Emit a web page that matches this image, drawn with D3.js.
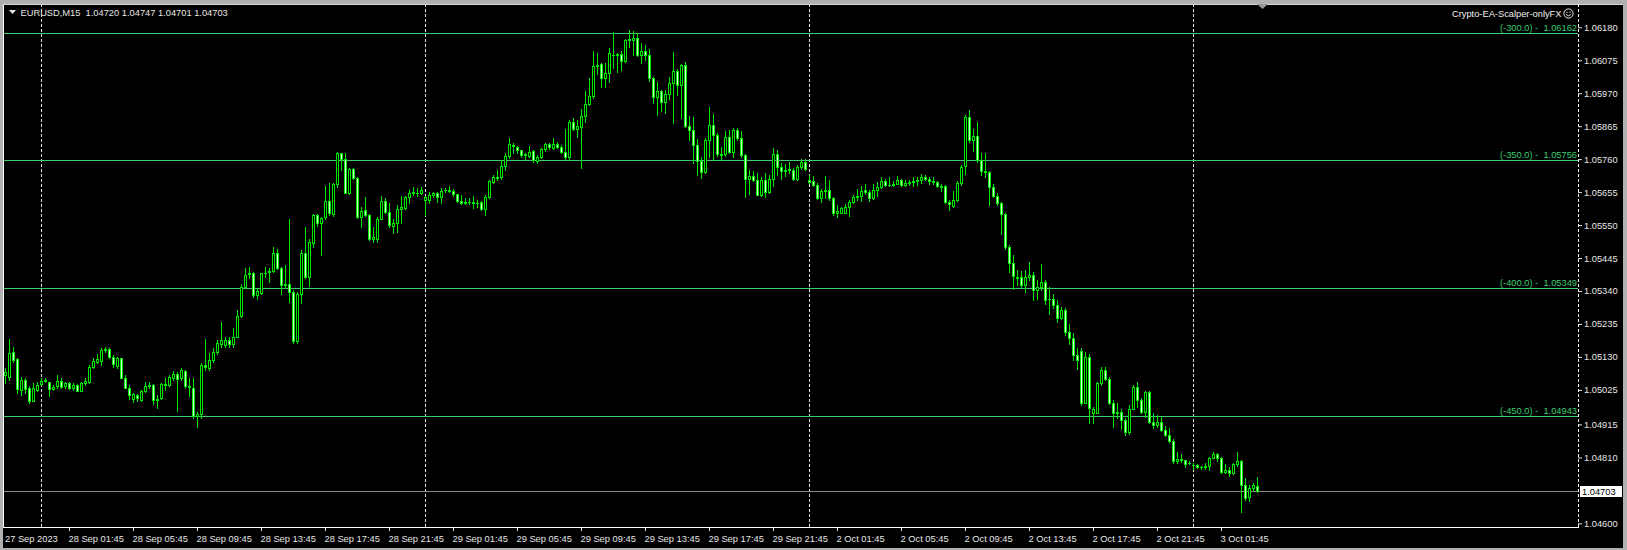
<!DOCTYPE html>
<html><head><meta charset="utf-8">
<script src="https://cdn.jsdelivr.net/npm/d3@7"></script>
<style>html,body{margin:0;padding:0;background:#b0b0b0;overflow:hidden}svg{display:block}</style>
</head><body><svg id="c" width="1627" height="550"></svg>
<script>
// EURUSD M15 candles, bar 0 = 27 Sep 2023 21:45
const opens=[1.05071,1.05067,1.05145,1.05123,1.05025,1.05057,1.05032,1.04990,1.05025,1.05043,
1.05054,1.05049,1.05028,1.05036,1.05054,1.05036,1.05048,1.05032,1.05041,1.05023,
1.05046,1.05051,1.05099,1.05113,1.05117,1.05151,1.05154,1.05131,1.05102,1.05126,
1.05064,1.05032,1.04996,1.05009,1.04993,1.05020,1.05036,1.05041,1.04996,1.04998,
1.05041,1.05041,1.05064,1.05075,1.05062,1.05085,1.05037,1.05032,1.04943,1.04947,
1.05105,1.05096,1.05119,1.05147,1.05171,1.05168,1.05184,1.05171,1.05194,1.05260,
1.05354,1.05394,1.05396,1.05326,1.05335,1.05396,1.05400,1.05405,1.05462,1.05412,
1.05358,1.05362,1.05337,1.05182,1.05330,1.05460,1.05383,1.05494,1.05581,1.05556,
1.05575,1.05628,1.05585,1.05681,1.05779,1.05759,1.05653,1.05728,1.05699,1.05577,
1.05598,1.05582,1.05507,1.05507,1.05570,1.05628,1.05591,1.05547,1.05558,1.05602,
1.05604,1.05638,1.05653,1.05653,1.05651,1.05629,1.05630,1.05645,1.05651,1.05639,
1.05662,1.05662,1.05658,1.05648,1.05627,1.05620,1.05625,1.05623,1.05620,1.05622,
1.05600,1.05639,1.05688,1.05701,1.05703,1.05737,1.05769,1.05805,1.05798,1.05788,
1.05773,1.05769,1.05786,1.05754,1.05768,1.05792,1.05807,1.05796,1.05809,1.05800,
1.05782,1.05766,1.05877,1.05856,1.05864,1.05898,1.05936,1.05960,1.06058,1.06062,
1.06020,1.06036,1.06092,1.06092,1.06096,1.06073,1.06140,1.06140,1.06145,1.06092,
1.06106,1.06092,1.06017,1.05959,1.05976,1.05942,1.05966,1.06004,1.06042,1.05996,
1.06059,1.05866,1.05853,1.05804,1.05753,1.05719,1.05821,1.05868,1.05838,1.05775,
1.05775,1.05832,1.05783,1.05853,1.05826,1.05773,1.05696,1.05705,1.05694,1.05647,
1.05692,1.05654,1.05698,1.05775,1.05736,1.05722,1.05726,1.05727,1.05698,1.05736,
1.05751,1.05694,1.05689,1.05679,1.05637,1.05660,1.05662,1.05635,1.05590,1.05590,
1.05589,1.05608,1.05625,1.05640,1.05642,1.05661,1.05655,1.05637,1.05661,1.05672,
1.05691,1.05678,1.05678,1.05682,1.05693,1.05678,1.05685,1.05687,1.05689,1.05693,
1.05704,1.05697,1.05689,1.05687,1.05676,1.05674,1.05623,1.05612,1.05629,1.05685,
1.05738,1.05895,1.05821,1.05835,1.05757,1.05721,1.05719,1.05670,1.05643,1.05619,
1.05585,1.05481,1.05430,1.05380,1.05385,1.05358,1.05383,1.05392,1.05343,1.05353,
1.05369,1.05313,1.05314,1.05295,1.05255,1.05280,1.05210,1.05190,1.05135,1.05150,
1.04984,1.05130,1.04952,1.04952,1.05046,1.05088,1.05061,1.04984,1.04952,1.04954,
1.04929,1.04890,1.04965,1.05033,1.04992,1.04955,1.05018,1.04923,1.04913,1.04924,
1.04897,1.04882,1.04863,1.04797,1.04806,1.04801,1.04791,1.04787,1.04785,1.04778,
1.04778,1.04784,1.04808,1.04822,1.04808,1.04765,1.04771,1.04759,1.04789,1.04797,
1.04723,1.04684,1.04712,1.04720];
const highs=[1.05094,1.05187,1.05163,1.05126,1.05067,1.05062,1.05036,1.05046,1.05051,1.05062,
1.05062,1.05051,1.05041,1.05073,1.05064,1.05051,1.05051,1.05046,1.05043,1.05049,
1.05062,1.05105,1.05126,1.05139,1.05158,1.05162,1.05158,1.05136,1.05131,1.05128,
1.05071,1.05039,1.05016,1.05011,1.05025,1.05049,1.05051,1.05043,1.05009,1.05046,
1.05062,1.05073,1.05085,1.05083,1.05094,1.05089,1.05062,1.05062,1.04956,1.05110,
1.05187,1.05142,1.05158,1.05184,1.05242,1.05194,1.05194,1.05221,1.05279,1.05362,
1.05412,1.05415,1.05402,1.05348,1.05398,1.05417,1.05412,1.05479,1.05473,1.05417,
1.05423,1.05568,1.05343,1.05338,1.05471,1.05545,1.05505,1.05585,1.05585,1.05577,
1.05674,1.05683,1.05685,1.05784,1.05781,1.05781,1.05731,1.05731,1.05702,1.05609,
1.05638,1.05585,1.05543,1.05575,1.05643,1.05635,1.05619,1.05568,1.05614,1.05643,
1.05643,1.05662,1.05670,1.05667,1.05672,1.05643,1.05656,1.05656,1.05656,1.05667,
1.05669,1.05674,1.05664,1.05650,1.05645,1.05635,1.05635,1.05643,1.05629,1.05628,
1.05645,1.05693,1.05711,1.05727,1.05757,1.05778,1.05826,1.05813,1.05803,1.05790,
1.05781,1.05801,1.05789,1.05773,1.05796,1.05813,1.05813,1.05828,1.05815,1.05805,
1.05856,1.05884,1.05892,1.05884,1.05921,1.05977,1.06017,1.06104,1.06097,1.06065,
1.06065,1.06115,1.06166,1.06098,1.06104,1.06142,1.06171,1.06169,1.06161,1.06129,
1.06124,1.06110,1.06021,1.06007,1.05981,1.05981,1.06021,1.06100,1.06047,1.06064,
1.06071,1.05896,1.05894,1.05824,1.05768,1.05827,1.05925,1.05904,1.05843,1.05800,
1.05851,1.05853,1.05858,1.05859,1.05851,1.05777,1.05724,1.05721,1.05715,1.05702,
1.05715,1.05710,1.05795,1.05790,1.05749,1.05745,1.05752,1.05731,1.05742,1.05760,
1.05760,1.05710,1.05707,1.05683,1.05664,1.05707,1.05692,1.05639,1.05614,1.05609,
1.05617,1.05631,1.05645,1.05666,1.05674,1.05682,1.05661,1.05680,1.05688,1.05702,
1.05697,1.05702,1.05691,1.05706,1.05696,1.05693,1.05695,1.05704,1.05702,1.05712,
1.05709,1.05702,1.05702,1.05689,1.05682,1.05677,1.05629,1.05659,1.05690,1.05741,
1.05900,1.05918,1.05855,1.05879,1.05778,1.05778,1.05723,1.05680,1.05651,1.05624,
1.05589,1.05486,1.05454,1.05408,1.05404,1.05406,1.05433,1.05401,1.05375,1.05425,
1.05375,1.05353,1.05330,1.05310,1.05290,1.05285,1.05235,1.05205,1.05160,1.05160,
1.05145,1.05140,1.04971,1.05051,1.05099,1.05099,1.05067,1.04992,1.04982,1.04963,
1.04934,1.04976,1.05040,1.05051,1.04998,1.05022,1.05022,1.04950,1.04945,1.04939,
1.04910,1.04902,1.04870,1.04828,1.04820,1.04803,1.04799,1.04791,1.04789,1.04784,
1.04791,1.04812,1.04828,1.04825,1.04812,1.04789,1.04780,1.04793,1.04828,1.04803,
1.04743,1.04722,1.04727,1.04747];
const lows=[1.05046,1.05057,1.05115,1.05014,1.05009,1.05014,1.04982,1.04988,1.05020,1.05041,
1.05049,1.05007,1.05025,1.05032,1.05030,1.05030,1.05028,1.05025,1.05022,1.05020,
1.05039,1.05046,1.05094,1.05110,1.05105,1.05147,1.05128,1.05099,1.05096,1.05062,
1.05030,1.04996,1.04986,1.04988,1.04990,1.05017,1.05030,1.04979,1.04966,1.04996,
1.05025,1.05036,1.05057,1.04958,1.05057,1.05030,1.05007,1.04935,1.04908,1.04935,
1.05089,1.05089,1.05115,1.05139,1.05163,1.05163,1.05163,1.05163,1.05192,1.05256,
1.05348,1.05380,1.05322,1.05313,1.05332,1.05386,1.05370,1.05402,1.05409,1.05330,
1.05348,1.05306,1.05175,1.05173,1.05301,1.05380,1.05356,1.05479,1.05547,1.05455,
1.05568,1.05582,1.05579,1.05672,1.05725,1.05651,1.05649,1.05696,1.05571,1.05543,
1.05579,1.05502,1.05497,1.05497,1.05568,1.05587,1.05545,1.05524,1.05529,1.05558,
1.05600,1.05619,1.05646,1.05643,1.05649,1.05582,1.05619,1.05640,1.05624,1.05619,
1.05656,1.05656,1.05643,1.05622,1.05617,1.05616,1.05617,1.05603,1.05608,1.05597,
1.05582,1.05635,1.05683,1.05693,1.05698,1.05725,1.05764,1.05778,1.05778,1.05768,
1.05760,1.05766,1.05752,1.05749,1.05764,1.05786,1.05792,1.05792,1.05794,1.05778,
1.05762,1.05757,1.05852,1.05831,1.05732,1.05879,1.05932,1.05955,1.06030,1.05991,
1.05991,1.06006,1.06049,1.06038,1.06044,1.06070,1.06118,1.06092,1.06087,1.06066,
1.06076,1.06010,1.05938,1.05900,1.05912,1.05906,1.05951,1.05874,1.05965,1.05890,
1.05862,1.05821,1.05749,1.05710,1.05699,1.05715,1.05768,1.05756,1.05770,1.05756,
1.05770,1.05779,1.05766,1.05821,1.05768,1.05641,1.05649,1.05689,1.05645,1.05643,
1.05639,1.05651,1.05675,1.05710,1.05696,1.05705,1.05717,1.05694,1.05694,1.05728,
1.05726,1.05683,1.05673,1.05632,1.05625,1.05636,1.05630,1.05582,1.05577,1.05588,
1.05587,1.05578,1.05619,1.05629,1.05627,1.05649,1.05627,1.05632,1.05642,1.05667,
1.05674,1.05674,1.05674,1.05680,1.05674,1.05674,1.05678,1.05676,1.05677,1.05685,
1.05693,1.05682,1.05680,1.05670,1.05659,1.05619,1.05598,1.05606,1.05627,1.05677,
1.05712,1.05815,1.05787,1.05752,1.05709,1.05702,1.05613,1.05638,1.05613,1.05523,
1.05475,1.05401,1.05345,1.05359,1.05353,1.05337,1.05375,1.05311,1.05313,1.05343,
1.05300,1.05268,1.05285,1.05240,1.05250,1.05200,1.05170,1.05120,1.05090,1.04976,
1.04982,1.04920,1.04920,1.04950,1.05040,1.05058,1.04980,1.04907,1.04937,1.04899,
1.04881,1.04886,1.04963,1.04971,1.04952,1.04939,1.04920,1.04905,1.04907,1.04895,
1.04878,1.04860,1.04793,1.04793,1.04796,1.04778,1.04789,1.04772,1.04775,1.04774,
1.04774,1.04769,1.04807,1.04799,1.04761,1.04761,1.04752,1.04757,1.04782,1.04637,
1.04674,1.04672,1.04704,1.04701];
const closes=[1.05081,1.05142,1.05120,1.05028,1.05057,1.05028,1.04990,1.05032,1.05041,1.05054,
1.05056,1.05028,1.05034,1.05054,1.05034,1.05047,1.05032,1.05041,1.05023,1.05046,
1.05054,1.05099,1.05117,1.05124,1.05151,1.05154,1.05131,1.05107,1.05126,1.05064,
1.05032,1.05009,1.05012,1.04998,1.05022,1.05037,1.05040,1.04993,1.04992,1.05043,
1.05043,1.05065,1.05075,1.05060,1.05087,1.05036,1.05034,1.04943,1.04947,1.05105,
1.05099,1.05119,1.05147,1.05174,1.05184,1.05184,1.05171,1.05194,1.05261,1.05354,
1.05390,1.05396,1.05326,1.05339,1.05396,1.05398,1.05403,1.05462,1.05412,1.05358,
1.05362,1.05337,1.05182,1.05330,1.05460,1.05383,1.05496,1.05581,1.05558,1.05571,
1.05628,1.05587,1.05681,1.05779,1.05759,1.05653,1.05728,1.05699,1.05575,1.05596,
1.05582,1.05507,1.05513,1.05570,1.05628,1.05591,1.05549,1.05558,1.05602,1.05606,
1.05638,1.05653,1.05654,1.05651,1.05662,1.05640,1.05645,1.05651,1.05641,1.05660,
1.05663,1.05658,1.05648,1.05626,1.05620,1.05625,1.05623,1.05620,1.05621,1.05600,
1.05641,1.05689,1.05703,1.05704,1.05737,1.05769,1.05807,1.05803,1.05788,1.05773,
1.05775,1.05783,1.05756,1.05768,1.05791,1.05809,1.05798,1.05809,1.05800,1.05782,
1.05766,1.05879,1.05856,1.05866,1.05899,1.05936,1.05960,1.06058,1.06060,1.06020,
1.06036,1.06098,1.06091,1.06094,1.06073,1.06138,1.06142,1.06146,1.06092,1.06106,
1.06092,1.06017,1.05959,1.05976,1.05942,1.05966,1.06004,1.06042,1.05996,1.06059,
1.05866,1.05853,1.05804,1.05753,1.05719,1.05821,1.05868,1.05838,1.05775,1.05773,
1.05832,1.05783,1.05853,1.05826,1.05773,1.05696,1.05705,1.05694,1.05647,1.05692,
1.05654,1.05698,1.05775,1.05736,1.05722,1.05726,1.05728,1.05698,1.05736,1.05751,
1.05730,1.05688,1.05679,1.05637,1.05660,1.05662,1.05635,1.05588,1.05594,1.05603,
1.05606,1.05625,1.05638,1.05643,1.05659,1.05655,1.05637,1.05661,1.05672,1.05691,
1.05678,1.05677,1.05681,1.05693,1.05678,1.05685,1.05687,1.05689,1.05693,1.05704,
1.05697,1.05689,1.05687,1.05676,1.05670,1.05625,1.05617,1.05629,1.05685,1.05736,
1.05895,1.05821,1.05835,1.05757,1.05721,1.05719,1.05670,1.05643,1.05619,1.05585,
1.05481,1.05430,1.05388,1.05386,1.05358,1.05385,1.05392,1.05343,1.05353,1.05369,
1.05311,1.05314,1.05295,1.05255,1.05280,1.05210,1.05190,1.05135,1.05120,1.04984,
1.05130,1.04966,1.04965,1.05046,1.05088,1.05061,1.04984,1.04952,1.04954,1.04929,
1.04892,1.04965,1.05033,1.04992,1.04955,1.05018,1.04923,1.04913,1.04924,1.04897,
1.04882,1.04863,1.04797,1.04806,1.04801,1.04789,1.04793,1.04786,1.04778,1.04779,
1.04784,1.04808,1.04822,1.04808,1.04765,1.04771,1.04759,1.04789,1.04797,1.04723,
1.04680,1.04712,1.04721,1.04703];

const priceTicks=[1.06180,1.06075,1.05970,1.05865,1.05760,1.05655,1.05550,1.05445,1.05340,1.05235,1.05130,1.05025,1.04915,1.04810,1.04600];
const timeLabels=["27 Sep 2023","28 Sep 01:45","28 Sep 05:45","28 Sep 09:45","28 Sep 13:45","28 Sep 17:45","28 Sep 21:45","29 Sep 01:45","29 Sep 05:45","29 Sep 09:45","29 Sep 13:45","29 Sep 17:45","29 Sep 21:45","2 Oct 01:45","2 Oct 05:45","2 Oct 09:45","2 Oct 13:45","2 Oct 17:45","2 Oct 21:45","3 Oct 01:45"];
const timeLabelBars=[0,16,32,48,64,80,96,112,128,144,160,176,192,208,224,240,256,272,288,304];
const daySeparatorBars=[9,105,201,297];
const levelPrices=[1.06162,1.05756,1.05349,1.04943];
const levelNames=["(-300.0)","(-350.0)","(-400.0)","(-450.0)"];
const currentPrice=1.04703;
const symbolTitle="EURUSD,M15  1.04720 1.04747 1.04701 1.04703";
const eaName="Crypto-EA-Scalper-onlyFX";

const FONT="'Liberation Sans', Arial, sans-serif";
const GREEN="#00e800", BEARFILL="#c8ffc8", LEVEL="#3ccc70", TXT="#e6e6e6";
const svg=d3.select('#c');
svg.append('rect').attr('width',1627).attr('height',550).attr('fill','#b0b0b0');
svg.append('rect').attr('x',3).attr('y',4).attr('width',1620).attr('height',544).attr('fill','#000');

const x=d3.scaleLinear().domain([0,313]).range([5,1257]);
const y=d3.scaleLinear().domain([1.04600,1.06180]).range([523.3,27.3]);
const px=i=>Math.round(x(i)), py=v=>Math.round(y(v));
const L=3,R=1578,T=4,B=527;

// day separators
svg.append('g').selectAll('line').data(daySeparatorBars).join('line')
 .attr('x1',d=>px(d)+0.5).attr('x2',d=>px(d)+0.5).attr('y1',T).attr('y2',B)
 .attr('stroke','#e0e0e0').attr('stroke-width',1).attr('stroke-dasharray','3,2');

// level lines
const lg=svg.append('g');
lg.selectAll('line').data(levelPrices).join('line')
 .attr('x1',L).attr('x2',R).attr('y1',d=>py(d)+0.5).attr('y2',d=>py(d)+0.5)
 .attr('stroke',LEVEL).attr('stroke-width',1);
lg.selectAll('text').data(levelPrices).join('text')
 .attr('x',R-1).attr('y',d=>py(d)-2).attr('text-anchor','end')
 .attr('fill',LEVEL).style('font',`9.3px ${FONT}`).style('white-space','pre')
 .text((d,i)=>levelNames[i]+" -  "+d3.format('.5f')(d));
// current price line
svg.append('line').attr('x1',L).attr('x2',R).attr('y1',py(currentPrice)+0.5).attr('y2',py(currentPrice)+0.5)
 .attr('stroke','#8a8a8a').attr('stroke-width',1);

// candles
const idx=d3.range(opens.length);
const cg=svg.append('g').attr('shape-rendering','crispEdges');
cg.selectAll('rect.w').data(idx).join('rect').attr('class','w')
 .attr('x',i=>px(i)).attr('y',i=>py(highs[i])).attr('width',1)
 .attr('height',i=>py(lows[i])-py(highs[i])+1).attr('fill',GREEN);
const bt=i=>py(Math.max(opens[i],closes[i])), bb=i=>py(Math.min(opens[i],closes[i]));
cg.selectAll('rect.b').data(idx).join('rect').attr('class','b')
 .attr('x',i=>px(i)-1).attr('y',bt).attr('width',3)
 .attr('height',i=>bb(i)-bt(i)+1).attr('fill',GREEN);
cg.selectAll('rect.i').data(idx.filter(i=>bb(i)-bt(i)>=2)).join('rect').attr('class','i')
 .attr('x',i=>px(i)).attr('y',i=>bt(i)+1).attr('width',1)
 .attr('height',i=>bb(i)-bt(i)-1)
 .attr('fill',i=>closes[i]>=opens[i]?'#000':BEARFILL);

// frame
const fg=svg.append('g').attr('shape-rendering','crispEdges');
fg.append('line').attr('x1',L+0.5).attr('x2',L+0.5).attr('y1',T).attr('y2',B+1).attr('stroke','#fff');
fg.append('line').attr('x1',L).attr('x2',1623).attr('y1',T+0.5).attr('y2',T+0.5).attr('stroke','#d8d8d8');
fg.append('line').attr('x1',L).attr('x2',R+1).attr('y1',B+0.5).attr('y2',B+0.5).attr('stroke','#fff');
fg.append('line').attr('x1',R+0.5).attr('x2',R+0.5).attr('y1',T).attr('y2',B).attr('stroke','#fff').attr('stroke-dasharray','3,2');

// price axis
const ya=svg.append('g').attr('transform',`translate(${R},0)`)
 .call(d3.axisRight(y).tickValues(priceTicks).tickSize(4).tickPadding(2).tickFormat(d3.format('.5f')));
ya.select('.domain').remove();
ya.selectAll('line').attr('stroke','#e0e0e0');
ya.selectAll('text').attr('fill',TXT).style('font',`9.3px ${FONT}`);

// current price label
svg.append('rect').attr('x',1580).attr('y',py(currentPrice)-5).attr('width',42).attr('height',11).attr('fill','#fff');
svg.append('text').attr('x',1582).attr('y',py(currentPrice)+4).attr('fill','#000')
 .style('font',`9.3px ${FONT}`).text(d3.format('.5f')(currentPrice));

// time axis
const xa=svg.append('g').attr('transform',`translate(0,${B})`)
 .call(d3.axisBottom(x).tickValues(timeLabelBars).tickSize(4).tickPadding(4).tickFormat((d,i)=>timeLabels[i]));
xa.select('.domain').remove();
xa.selectAll('line').attr('stroke','#e0e0e0');
xa.selectAll('.tick').filter(d=>d===0).select('line').remove();
xa.selectAll('text').attr('fill',TXT).attr('text-anchor','start').attr('x',-1).style('font',`9.3px ${FONT}`);
xa.selectAll('.tick').filter(d=>d===0).select('text').attr('x',L+1.5-x(0));

// title
svg.append('path').attr('d','M9,10 L16,10 L12.5,14 Z').attr('fill',TXT);
svg.append('text').attr('x',20.5).attr('y',16).attr('fill',TXT).style('font',`9.3px ${FONT}`).style('white-space','pre').text(symbolTitle);
// EA name + smiley
svg.append('text').attr('x',1561.5).attr('y',17).attr('text-anchor','end').attr('fill','#f0f0f0').style('font',`9.3px ${FONT}`).text(eaName);
const sm=svg.append('g').attr('transform','translate(1568.5,13.5)').attr('fill','none').attr('stroke','#f0f0f0');
sm.append('circle').attr('r',4.6);
sm.append('circle').attr('cx',-1.6).attr('cy',-1.3).attr('r',0.6).attr('fill','#f0f0f0').attr('stroke','none');
sm.append('circle').attr('cx',1.6).attr('cy',-1.3).attr('r',0.6).attr('fill','#f0f0f0').attr('stroke','none');
sm.append('path').attr('d','M-2.4,1 Q0,3.6 2.4,1').attr('stroke-width',0.9);
// chart shift marker
svg.append('path').attr('d','M1257,4 L1268,4 L1262.5,9 Z').attr('fill','#9a9a9a');
</script></body></html>
